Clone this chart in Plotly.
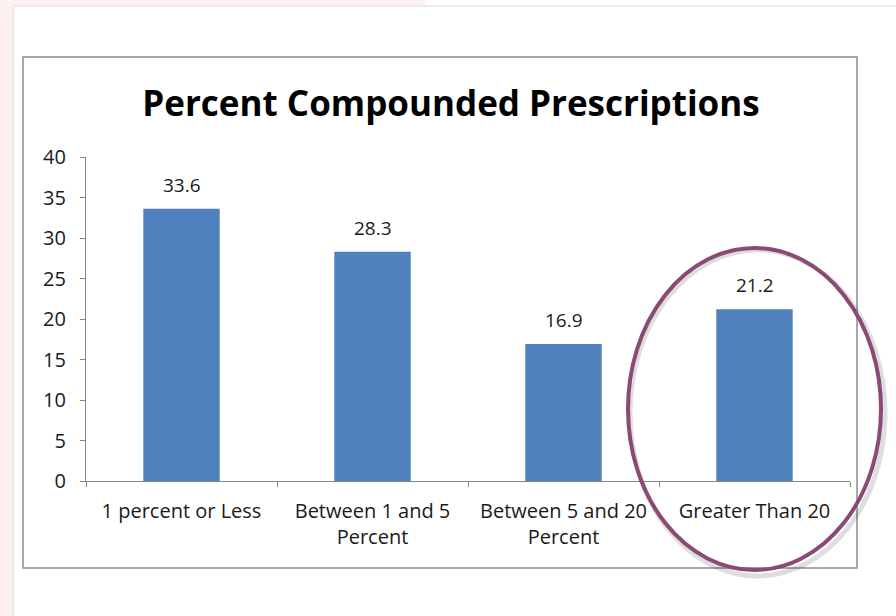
import plotly.graph_objects as go

categories = ["1 percent or Less", "Between 1 and 5<br>Percent", "Between 5 and 20<br>Percent", "Greater Than 20"]
values = [33.6, 28.3, 16.9, 21.2]
y_ticks = [0, 5, 10, 15, 20, 25, 30, 35, 40]

FONT = "Open Sans, sans-serif"
W, H = 896, 616
L, R, T, B = 86, 46, 157, 135
pw, ph = W - L - R, H - T - B

def px(x):
    return (x - L) / pw

def py(y):
    return (H - B - y) / ph

fig = go.Figure()
fig.add_trace(go.Bar(
    x=categories, y=values, width=0.4,
    marker=dict(color="#4F81BD", line=dict(width=0)),
    hoverinfo="skip",
))

for c, v in zip(categories, values):
    fig.add_annotation(x=c, y=v, text=f"{v:.1f}", showarrow=False,
                       yanchor="bottom", yshift=9,
                       font=dict(family=FONT, size=19, color="#1a1a1a"))

shapes = [
    dict(type="rect", xref="paper", yref="paper", x0=px(0), x1=px(13), y0=py(616), y1=py(0),
         fillcolor="#FDF1F2", line=dict(width=0), layer="below"),
    dict(type="rect", xref="paper", yref="paper", x0=px(0), x1=px(425), y0=py(6), y1=py(0),
         fillcolor="#FDF1F2", line=dict(width=0), layer="below"),
    dict(type="line", xref="paper", yref="paper", x0=px(13), x1=px(896), y0=py(6), y1=py(6),
         line=dict(color="#DCDCDC", width=1), layer="below"),
    dict(type="line", xref="paper", yref="paper", x0=px(13), x1=px(13), y0=py(6), y1=py(616),
         line=dict(color="#DCDCDC", width=1), layer="below"),
    dict(type="rect", xref="paper", yref="paper", x0=px(23), x1=px(857), y0=py(568), y1=py(57),
         line=dict(color="#8C8C8C", width=1.5), fillcolor="rgba(0,0,0,0)", layer="below"),
    dict(type="circle", xref="paper", yref="paper", x0=px(630), x1=px(885), y0=py(576), y1=py(250),
         line=dict(color="rgba(0,0,0,0.13)", width=5), layer="above"),
    dict(type="circle", xref="paper", yref="paper", x0=px(628), x1=px(881), y0=py(570), y1=py(248),
         line=dict(color="#8B4A75", width=4), layer="above"),
]

fig.update_layout(
    width=W, height=H,
    margin=dict(l=L, r=R, t=T, b=B),
    paper_bgcolor="white", plot_bgcolor="rgba(0,0,0,0)",
    showlegend=False,
    bargap=0.6,
    title=dict(text="<b>Percent Compounded Prescriptions</b>", x=451 / W, xanchor="center",
               y=1 - 104 / H, yanchor="middle",
               font=dict(family=FONT, size=35, color="#000000")),
    xaxis=dict(showline=True, linecolor="#868686", linewidth=1.3,
               ticks="outside", tickson="boundaries", ticklen=5, tickcolor="#868686",
               tickfont=dict(family=FONT, size=20, color="#1a1a1a"),
               ticklabelstandoff=12, showgrid=False, zeroline=False, fixedrange=True),
    yaxis=dict(range=[0, 40], tickvals=y_ticks, showline=True, linecolor="#868686", linewidth=1.3,
               ticks="outside", ticklen=5, tickcolor="#868686",
               tickfont=dict(family=FONT, size=20, color="#1a1a1a"),
               ticklabelstandoff=10, showgrid=False, zeroline=False, fixedrange=True),
    shapes=shapes,
)

fig.write_html("out.html")
